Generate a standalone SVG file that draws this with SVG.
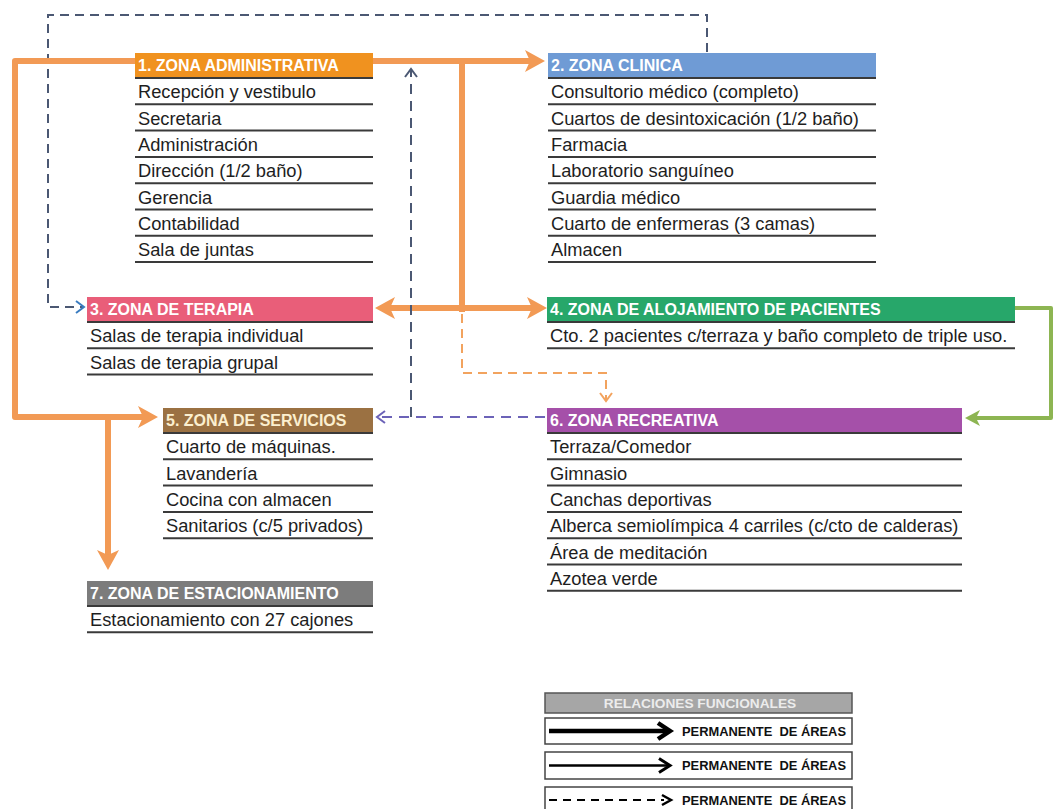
<svg xmlns="http://www.w3.org/2000/svg" width="1057" height="809" viewBox="0 0 1057 809">
<style>
.hd{font-family:"Liberation Sans",Arial,sans-serif;font-weight:bold;font-size:16px;fill:#ffffff}
.it{font-family:"Liberation Sans",Arial,sans-serif;font-size:18.3px;fill:#1e1e1e}
.ul{stroke:#3a3a3a;stroke-width:2}
.lg{font-family:"Liberation Sans",Arial,sans-serif;font-weight:bold;font-size:12.9px;fill:#111;white-space:pre}
.lgh{font-family:"Liberation Sans",Arial,sans-serif;font-weight:bold;font-size:13.7px;fill:#ececec}
.or{fill:none;stroke:#F29A55;stroke-width:6;stroke-linejoin:round}
</style>
<defs>
<marker id="ao" markerUnits="userSpaceOnUse" markerWidth="22" markerHeight="24" refX="5" refY="12" orient="auto-start-reverse">
<path d="M0,1 L20,12 L0,23 L5,12 z" fill="#F29A55"/>
</marker>
<marker id="ag" markerUnits="userSpaceOnUse" markerWidth="18" markerHeight="18" refX="4" refY="9" orient="auto">
<path d="M0,1 L15,9 L0,17 L4,9 z" fill="#8DB552"/>
</marker>
<marker id="cp" markerUnits="userSpaceOnUse" markerWidth="14" markerHeight="14" refX="9" refY="7" orient="auto">
<path d="M1,1 L9,7 L1,13" fill="none" stroke="#6C63B8" stroke-width="2"/>
</marker>
<marker id="cs" markerUnits="userSpaceOnUse" markerWidth="14" markerHeight="14" refX="9" refY="7" orient="auto">
<path d="M1,1 L9,7 L1,13" fill="none" stroke="#4B5873" stroke-width="2"/>
</marker>
<marker id="co" markerUnits="userSpaceOnUse" markerWidth="14" markerHeight="14" refX="9" refY="7" orient="auto">
<path d="M1,1 L9,7 L1,13" fill="none" stroke="#F2A35E" stroke-width="2"/>
</marker>
<marker id="cb" markerUnits="userSpaceOnUse" markerWidth="14" markerHeight="14" refX="9" refY="7" orient="auto">
<path d="M1,1 L9,7 L1,13" fill="none" stroke="#3A7CC0" stroke-width="2"/>
</marker>
</defs>
<rect width="1057" height="809" fill="#ffffff"/>

<g id="connectors">
<path d="M707 52 V15 H48 V307 H84" fill="none" stroke="#4B5873" stroke-width="2" stroke-dasharray="9 6" marker-end="url(#cb)"/>
<path class="or" d="M530 61 H15 V417 H143" marker-start="url(#ao)" marker-end="url(#ao)"/>
<path class="or" d="M108 417 V555" marker-end="url(#ao)"/>
<path class="or" d="M462 61 V312"/>
<path class="or" d="M390 308 H532" marker-start="url(#ao)" marker-end="url(#ao)"/>
<path d="M462 314 V373 H606 V401" fill="none" stroke="#F2A35E" stroke-width="2" stroke-dasharray="9 6" marker-end="url(#co)"/>
<path d="M1013 308 H1051 V418 H976" fill="none" stroke="#8DB552" stroke-width="4" stroke-linejoin="round" marker-end="url(#ag)"/>
<path d="M545 417 H377" fill="none" stroke="#6C63B8" stroke-width="2" stroke-dasharray="10 7" marker-end="url(#cp)"/>
<path d="M411 417 V69" fill="none" stroke="#4B5873" stroke-width="2" stroke-dasharray="10 7" marker-end="url(#cs)"/>
</g>

<g id="zona1">
<rect x="135" y="53" width="238" height="25" fill="#F0921F"/>
<text class="hd" x="138" y="71">1. ZONA ADMINISTRATIVA</text>
<line class="ul" x1="135" y1="78" x2="373" y2="78"/>
<text class="it" x="138" y="98.3">Recepción y vestibulo</text><line class="ul" x1="135" y1="104.3" x2="373" y2="104.3"/>
<text class="it" x="138" y="124.6">Secretaria</text><line class="ul" x1="135" y1="130.6" x2="373" y2="130.6"/>
<text class="it" x="138" y="150.9">Administración</text><line class="ul" x1="135" y1="156.9" x2="373" y2="156.9"/>
<text class="it" x="138" y="177.2">Dirección (1/2 baño)</text><line class="ul" x1="135" y1="183.2" x2="373" y2="183.2"/>
<text class="it" x="138" y="203.5">Gerencia</text><line class="ul" x1="135" y1="209.5" x2="373" y2="209.5"/>
<text class="it" x="138" y="229.8">Contabilidad</text><line class="ul" x1="135" y1="235.8" x2="373" y2="235.8"/>
<text class="it" x="138" y="256.1">Sala de juntas</text><line class="ul" x1="135" y1="262.1" x2="373" y2="262.1"/>
</g>

<g id="zona2">
<rect x="548" y="53" width="328" height="25" fill="#6F9BD5"/>
<text class="hd" x="551" y="71">2. ZONA CLINICA</text>
<line class="ul" x1="548" y1="78" x2="876" y2="78"/>
<text class="it" x="551" y="98.3">Consultorio médico (completo)</text><line class="ul" x1="548" y1="104.3" x2="876" y2="104.3"/>
<text class="it" x="551" y="124.6">Cuartos de desintoxicación (1/2 baño)</text><line class="ul" x1="548" y1="130.6" x2="876" y2="130.6"/>
<text class="it" x="551" y="150.9">Farmacia</text><line class="ul" x1="548" y1="156.9" x2="876" y2="156.9"/>
<text class="it" x="551" y="177.2">Laboratorio sanguíneo</text><line class="ul" x1="548" y1="183.2" x2="876" y2="183.2"/>
<text class="it" x="551" y="203.5">Guardia médico</text><line class="ul" x1="548" y1="209.5" x2="876" y2="209.5"/>
<text class="it" x="551" y="229.8">Cuarto de enfermeras (3 camas)</text><line class="ul" x1="548" y1="235.8" x2="876" y2="235.8"/>
<text class="it" x="551" y="256.1">Almacen</text><line class="ul" x1="548" y1="262.1" x2="876" y2="262.1"/>
</g>

<g id="zona3">
<rect x="87" y="297" width="286" height="25" fill="#E95E79"/>
<text class="hd" x="90" y="315">3. ZONA DE TERAPIA</text>
<line class="ul" x1="87" y1="322" x2="373" y2="322"/>
<text class="it" x="90" y="342.3">Salas de terapia individual</text><line class="ul" x1="87" y1="348.3" x2="373" y2="348.3"/>
<text class="it" x="90" y="368.6">Salas de terapia grupal</text><line class="ul" x1="87" y1="374.6" x2="373" y2="374.6"/>
</g>

<g id="zona4">
<rect x="547" y="297" width="468" height="25" fill="#27A76A"/>
<text class="hd" x="550" y="315">4. ZONA DE ALOJAMIENTO DE PACIENTES</text>
<line class="ul" x1="547" y1="322" x2="1015" y2="322"/>
<text class="it" x="550" y="342.3">Cto. 2 pacientes c/terraza y baño completo de triple uso.</text><line class="ul" x1="547" y1="348.3" x2="1015" y2="348.3"/>
</g>

<g id="zona5">
<rect x="163" y="408" width="210" height="25" fill="#9B7142"/>
<text class="hd" x="166" y="426" style="fill:#fbefcf">5. ZONA DE SERVICIOS</text>
<line class="ul" x1="163" y1="433" x2="373" y2="433"/>
<text class="it" x="166" y="453.3">Cuarto de máquinas.</text><line class="ul" x1="163" y1="459.3" x2="373" y2="459.3"/>
<text class="it" x="166" y="479.6">Lavandería</text><line class="ul" x1="163" y1="485.6" x2="373" y2="485.6"/>
<text class="it" x="166" y="505.9">Cocina con almacen</text><line class="ul" x1="163" y1="511.9" x2="373" y2="511.9"/>
<text class="it" x="166" y="532.2">Sanitarios (c/5 privados)</text><line class="ul" x1="163" y1="538.2" x2="373" y2="538.2"/>
</g>

<g id="zona6">
<rect x="547" y="408" width="415" height="25" fill="#A550A9"/>
<text class="hd" x="550" y="426">6. ZONA RECREATIVA</text>
<line class="ul" x1="547" y1="433" x2="962" y2="433"/>
<text class="it" x="550" y="453.3">Terraza/Comedor</text><line class="ul" x1="547" y1="459.3" x2="962" y2="459.3"/>
<text class="it" x="550" y="479.6">Gimnasio</text><line class="ul" x1="547" y1="485.6" x2="962" y2="485.6"/>
<text class="it" x="550" y="505.9">Canchas deportivas</text><line class="ul" x1="547" y1="511.9" x2="962" y2="511.9"/>
<text class="it" x="550" y="532.2">Alberca semiolímpica 4 carriles (c/cto de calderas)</text><line class="ul" x1="547" y1="538.2" x2="962" y2="538.2"/>
<text class="it" x="550" y="558.5">Área de meditación</text><line class="ul" x1="547" y1="564.5" x2="962" y2="564.5"/>
<text class="it" x="550" y="584.8">Azotea verde</text><line class="ul" x1="547" y1="590.8" x2="962" y2="590.8"/>
</g>

<g id="zona7">
<rect x="87" y="581" width="286" height="25" fill="#7C7C7C"/>
<text class="hd" x="90" y="599">7. ZONA DE ESTACIONAMIENTO</text>
<line class="ul" x1="87" y1="606" x2="373" y2="606"/>
<text class="it" x="90" y="626.3">Estacionamiento con 27 cajones</text><line class="ul" x1="87" y1="632.3" x2="373" y2="632.3"/>
</g>

<g id="leyenda">
<rect x="545" y="693" width="307" height="20" fill="#A6A6A6" stroke="#555" stroke-width="1.5"/>
<text class="lgh" x="700" y="708" text-anchor="middle">RELACIONES FUNCIONALES</text>
<rect x="545" y="718" width="307" height="26" fill="#fff" stroke="#444" stroke-width="1.5"/>
<line x1="549" y1="731" x2="668" y2="731" stroke="#000" stroke-width="4.5"/>
<path d="M658 723 L670 731 L658 739" fill="none" stroke="#000" stroke-width="4.5"/>
<text class="lg" x="682" y="736">PERMANENTE  DE ÁREAS</text>
<rect x="545" y="752" width="307" height="27" fill="#fff" stroke="#444" stroke-width="1.5"/>
<line x1="549" y1="765.5" x2="668" y2="765.5" stroke="#000" stroke-width="2.5"/>
<path d="M659 758.5 L670 765.5 L659 772.5" fill="none" stroke="#000" stroke-width="3"/>
<text class="lg" x="682" y="770">PERMANENTE  DE ÁREAS</text>
<rect x="545" y="787" width="307" height="30" fill="#fff" stroke="#444" stroke-width="1.5"/>
<line x1="549" y1="800" x2="664" y2="800" stroke="#000" stroke-width="2" stroke-dasharray="8 6"/>
<path d="M662 795 L671 800 L662 805" fill="none" stroke="#000" stroke-width="2.5"/>
<text class="lg" x="682" y="805">PERMANENTE  DE ÁREAS</text>
</g>
</svg>
